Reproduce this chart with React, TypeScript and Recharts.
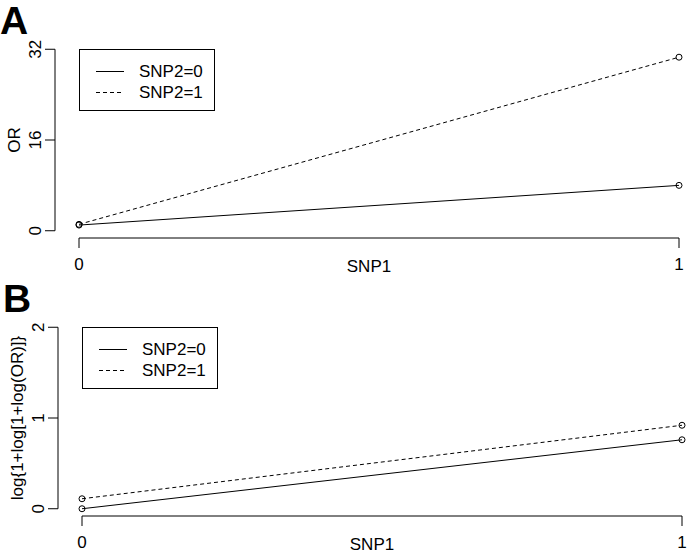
import React from "react";
import { LineChart, Line, XAxis, YAxis, ReferenceLine, Legend } from "recharts";

// values
const SNP1 = [0, 1];
const OR_SNP2_0 = [1, 8];
const OR_SNP2_1 = [1.13, 30.6];
const LOG_SNP2_0 = [0, 0.76];
const LOG_SNP2_1 = [0.11, 0.92];
const OR_TICKS = [0, 16, 32];
const LOG_TICKS = [0, 1, 2];
const X_TICKS = [0, 1];
const SERIES_NAMES = ["SNP2=0", "SNP2=1"];

const FONT = "'Liberation Sans', Arial, sans-serif";
const FS = 17;

// R style 4% axis extension
const ext = (lo: number, hi: number): [number, number] => {
  const d = (hi - lo) * 0.04;
  return [lo - d, hi + d];
};

const X_DOMAIN = ext(0, 1);

const buildRows = (a: number[], b: number[]) =>
  SNP1.map((x, i) => ({ snp1: x, s0: a[i], s1: b[i] }));

const OpenDot = (props: any) => {
  const { cx, cy, index } = props;
  if (cx == null || cy == null) return <g key={`d-${index}`} />;
  return <circle key={`d-${index}`} cx={cx} cy={cy} r={3} fill="none" stroke="#000" strokeWidth={1} />;
};

const YTick = (props: any) => {
  const { x, y, payload } = props;
  return (
    <text
      x={x - 4}
      y={y}
      transform={`rotate(-90, ${x - 4}, ${y})`}
      textAnchor="middle"
      fontSize={FS}
      fill="#000"
      fontFamily={FONT}
    >
      {payload.value}
    </text>
  );
};

const renderLegend = (props: any) => (
  <div
    style={{
      border: "1px solid #000",
      boxSizing: "border-box",
      width: 136,
      height: 62,
      background: "#fff",
      paddingTop: 11,
      fontFamily: FONT,
    }}
  >
    {(props.payload || []).map((entry: any, i: number) => (
      <div key={i} style={{ display: "flex", alignItems: "center", height: 21 }}>
        <svg width={44} height={21} style={{ display: "block" }}>
          <line
            x1={16}
            x2={44}
            y1={10.5}
            y2={10.5}
            stroke="#000"
            strokeWidth={1}
            strokeDasharray={entry.payload?.strokeDasharray}
          />
        </svg>
        <span style={{ marginLeft: 15, fontSize: FS, color: "#000", lineHeight: "21px" }}>
          {entry.value}
        </span>
      </div>
    ))}
  </div>
);

interface PanelProps {
  letter: string;
  yLabel: string;
  yTicks: number[];
  s0: number[];
  s1: number[];
  top: number;
  left: number;
}

function Panel({ letter, yLabel, yTicks, s0, s1, top, left }: PanelProps) {
  const yDomain = ext(yTicks[0], yTicks[yTicks.length - 1]);
  const rows = buildRows(s0, s1);
  return (
    <div style={{ position: "absolute", top, left, width: 720, height: 278 }}>
      <div
        style={{
          position: "absolute",
          left: 0,
          top: 1,
          fontSize: 39,
          fontWeight: "bold",
          lineHeight: 1,
          fontFamily: FONT,
          color: "#000",
        }}
      >
        {letter}
      </div>
      <LineChart
        width={720}
        height={278}
        data={rows}
        margin={{ top: 42, right: 17, bottom: 0, left: 0 }}
      >
        <XAxis
          dataKey="snp1"
          type="number"
          domain={X_DOMAIN}
          ticks={X_TICKS}
          allowDataOverflow
          axisLine={false}
          tickLine={{ stroke: "#000" }}
          tickSize={10}
          tickMargin={10}
          height={40}
          tick={{ fill: "#000", fontSize: FS, fontFamily: FONT }}
          label={(p: any) => {
            const vb = p.viewBox;
            return (
              <text
                x={vb.x + vb.width / 2 - 10}
                y={vb.y + 34}
                textAnchor="middle"
                fontSize={FS}
                fill="#000"
                fontFamily={FONT}
              >
                SNP1
              </text>
            );
          }}
        />
        <YAxis
          type="number"
          domain={yDomain}
          ticks={yTicks}
          allowDataOverflow
          interval={0}
          width={55}
          axisLine={false}
          tickLine={{ stroke: "#000" }}
          tickSize={10}
          tickMargin={0}
          tick={<YTick />}
          label={(p: any) => {
            const vb = p.viewBox;
            const cy = vb.y + vb.height / 2;
            const cx = vb.x + 20;
            return (
              <text
                x={cx}
                y={cy}
                transform={`rotate(-90, ${cx}, ${cy})`}
                textAnchor="middle"
                fontSize={FS}
                fill="#000"
                fontFamily={FONT}
              >
                {yLabel}
              </text>
            );
          }}
        />
        <ReferenceLine
          segment={[
            { x: X_TICKS[0], y: yDomain[0] },
            { x: X_TICKS[X_TICKS.length - 1], y: yDomain[0] },
          ]}
          stroke="#000"
          strokeWidth={1}
          ifOverflow="visible"
        />
        <ReferenceLine
          segment={[
            { x: X_DOMAIN[0], y: yTicks[0] },
            { x: X_DOMAIN[0], y: yTicks[yTicks.length - 1] },
          ]}
          stroke="#000"
          strokeWidth={1}
          ifOverflow="visible"
        />
        <Legend
          layout="vertical"
          align="center"
          verticalAlign="middle"
          content={renderLegend}
          wrapperStyle={{ left: 79, top: 49, width: 136, height: 62 }}
        />
        <Line
          dataKey="s0"
          name={SERIES_NAMES[0]}
          type="linear"
          stroke="#000"
          strokeWidth={1}
          dot={OpenDot}
          activeDot={false}
          isAnimationActive={false}
        />
        <Line
          dataKey="s1"
          name={SERIES_NAMES[1]}
          type="linear"
          stroke="#000"
          strokeWidth={1}
          strokeDasharray="4 3"
          dot={OpenDot}
          activeDot={false}
          isAnimationActive={false}
        />
      </LineChart>
    </div>
  );
}

export default function App() {
  return (
    <div
      style={{
        position: "absolute",
        left: 0,
        top: 0,
        width: 691,
        height: 556,
        overflow: "hidden",
        background: "#fff",
        fontFamily: FONT,
      }}
    >
      <Panel letter="A" yLabel="OR" yTicks={OR_TICKS} s0={OR_SNP2_0} s1={OR_SNP2_1} top={0} left={0} />
      <Panel
        letter="B"
        yLabel="log{1+log[1+log(OR)]}"
        yTicks={LOG_TICKS}
        s0={LOG_SNP2_0}
        s1={LOG_SNP2_1}
        top={278}
        left={3}
      />
    </div>
  );
}
